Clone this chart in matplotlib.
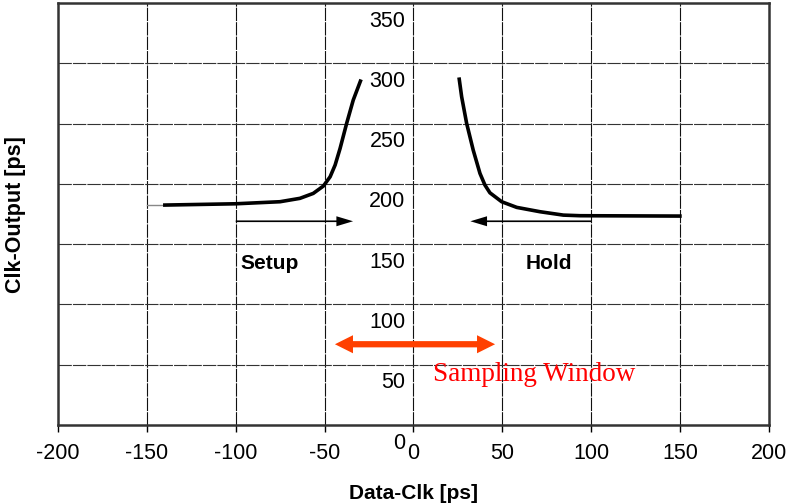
import matplotlib
matplotlib.use("Agg")
import matplotlib.pyplot as plt
import matplotlib.transforms as mtransforms

# data
setup_x = [-140.9, -99.9, -75.1, -63.9, -56.4, -50.7, -46.9, -44.1, -41.3, -37.6, -33.9, -29.5]
setup_y = [182.4, 183.5, 185.2, 188.0, 192.1, 198.2, 205.9, 215.6, 229.4, 250.2, 269.5, 286.6]
lead_x = [-150, -140.9]
lead_y = [182.4, 182.4]
hold_x = [25.6, 27.1, 29.9, 33.6, 37.4, 40.2, 43.0, 49.6, 58.1, 71.2, 84.3, 93.7, 150.9]
hold_y = [288.3, 272.2, 250.2, 228.0, 208.7, 199.0, 192.6, 185.2, 180.5, 176.9, 174.1, 173.6, 173.3]
xticks = [-200, -150, -100, -50, 0, 50, 100, 150, 200]
yticks = [0, 50, 100, 150, 200, 250, 300, 350]
setup_arrow = (-100, -34, 169)
hold_arrow = (100, 32, 169)
window = (-44.2, 45.9, 67)

plt.rcParams['font.family'] = ['Liberation Sans', 'DejaVu Sans']
fig = plt.figure(figsize=(7.87, 5.04), dpi=100)
ax = fig.add_axes([0.0737, 0.1567, 0.9034, 0.8373])
ax.set_xlim(-200, 200)
ax.set_ylim(0, 350)

for v in xticks[1:-1]:
    ax.axvline(v, color='#111111', lw=0.8, ls=(0, (12, 1)), zorder=1)
for v in yticks[1:-1]:
    ax.axhline(v, color='#333333', lw=0.8, ls=(0, (12, 1)), zorder=1)

for s in ax.spines.values():
    s.set_linewidth(1.8)
    s.set_color('#333333')

ax.set_xticks(xticks)
ax.set_xticklabels([str(v) for v in xticks], fontsize=15.5)
ax.tick_params(axis='x', direction='out', length=5, width=1, pad=8)
ax.set_yticks([])

off = mtransforms.ScaledTranslation(-8 / 100, -18 / 100, fig.dpi_scale_trans)
for v in yticks:
    ax.text(0, v, str(v), transform=ax.transData + off, ha='right', va='center', fontsize=15.5)

ax.plot(lead_x, lead_y, color='#888888', lw=1.0, zorder=3)
ax.plot(setup_x, setup_y, color='black', lw=2.6, zorder=4, solid_capstyle='butt', solid_joinstyle='round')
ax.plot(hold_x, hold_y, color='black', lw=2.6, zorder=4, solid_capstyle='butt', solid_joinstyle='round')

blk = dict(arrowstyle='simple,head_length=1.2,head_width=0.72,tail_width=0.12', color='black', lw=0,
           shrinkA=0, shrinkB=0, mutation_scale=10)
ax.annotate('', xy=(setup_arrow[1], setup_arrow[2]), xytext=(setup_arrow[0], setup_arrow[2]), arrowprops=blk, zorder=5)
ax.annotate('', xy=(hold_arrow[1], hold_arrow[2]), xytext=(hold_arrow[0], hold_arrow[2]), arrowprops=blk, zorder=5)
red = dict(arrowstyle='simple,head_length=1.3,head_width=1.3,tail_width=0.45', color='#FF4000', lw=0,
           shrinkA=0, shrinkB=0, mutation_scale=10)
xm = (window[0] + window[1]) / 2
ax.annotate('', xy=(window[0], window[2]), xytext=(xm, window[2]), arrowprops=red, zorder=5)
ax.annotate('', xy=(window[1], window[2]), xytext=(xm, window[2]), arrowprops=red, zorder=5)

ax.text(-81, 134, 'Setup', fontsize=15, fontweight='bold', ha='center', va='center')
ax.text(76, 134, 'Hold', fontsize=15, fontweight='bold', ha='center', va='center')
ax.text(11, 41.5, 'Sampling Window', color='red', fontsize=19.5, family=['Liberation Serif', 'DejaVu Serif'], ha='left', va='center')

ax.set_xlabel('Data-Clk [ps]', fontsize=15, fontweight='bold', labelpad=14)
fig.text(16 / 787, 1 - 215 / 504, 'Clk-Output [ps]', rotation=90, fontsize=15.5, fontweight='bold', ha='center', va='center')

fig.savefig('out.png', dpi=100)
